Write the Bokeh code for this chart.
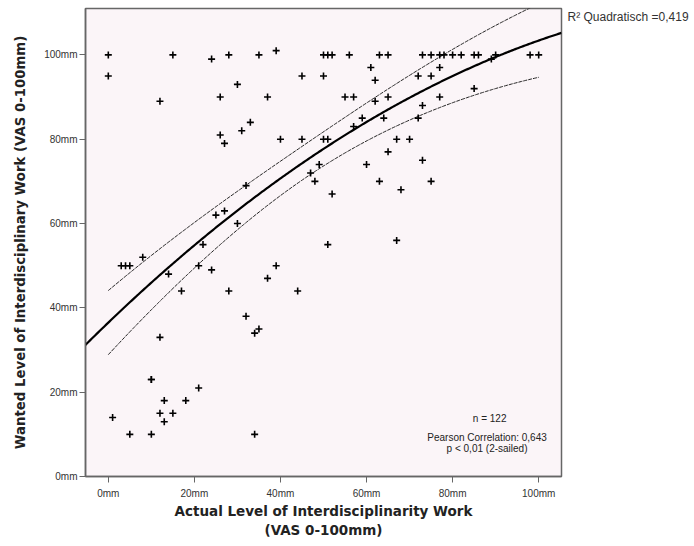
import numpy as np
from bokeh.plotting import figure
from bokeh.models import Range1d, Label, LinearAxis, FixedTicker
from bokeh.embed import file_html
from bokeh.resources import INLINE

# Data
actual = [0, 15, 24, 28, 35, 39, 50, 51, 52, 56, 63, 65, 73, 75, 77, 78, 80, 82, 85, 86, 89, 90, 98, 100,
          0, 12, 30, 26, 37, 45, 50, 61, 62, 72, 75, 77, 55, 57, 65, 62, 77, 85, 73,
          33, 31, 26, 27, 40, 45, 50, 51, 57, 59, 64, 72, 67, 70, 65, 60, 73,
          32, 49, 47, 48, 52, 63, 68, 75,
          51, 67, 25, 27, 30, 22,
          8, 3, 4, 5, 14, 21, 24, 39, 37, 17, 28, 44,
          32, 34, 35, 12, 10, 10, 21, 13, 18, 12, 15, 13, 1, 5, 10, 34]
wanted = [100, 100, 99, 100, 100, 101, 100, 100, 100, 100, 100, 100, 100, 100, 100, 100, 100, 100, 100, 100, 99, 100, 100, 100,
          95, 89, 93, 90, 90, 95, 95, 97, 94, 95, 95, 97, 90, 90, 90, 89, 90, 92, 88,
          84, 82, 81, 79, 80, 80, 80, 80, 83, 85, 85, 85, 80, 80, 77, 74, 75,
          69, 74, 72, 70, 67, 70, 68, 70,
          55, 56, 62, 63, 60, 55,
          52, 50, 50, 50, 48, 50, 49, 50, 47, 44, 44, 44,
          38, 34, 35, 33, 23, 23, 21, 18, 18, 15, 15, 13, 14, 10, 10, 10]

tick_values = [0, 20, 40, 60, 80, 100]
tick_labels = ["0mm", "20mm", "40mm", "60mm", "80mm", "100mm"]

# quadratic fit (a + b x + c x^2)
fit_coef = [36.5, 0.979, -0.0031]
# 95% CI half-width of the mean: hw^2 = A + K (x - m)^2
ci_params = [16.0, 0.0202, 45.5]

r2_text = "R\u00b2 Quadratisch =0,419"
r2_label_y = 109
n_text = "n = 122"
pearson_text = "Pearson Correlation: 0,643"
p_text = "p < 0,01 (2-sailed)"
x_title = "Actual Level of Interdisciplinarity Work\n(VAS 0-100mm)"
y_title = "Wanted Level of Interdisciplinary Work (VAS 0-100mm)"

x_lo, x_hi = -5.3, 105.3
y_lo, y_hi = 0, 111

p = figure(frame_width=476, frame_height=468,
           x_range=Range1d(x_lo, x_hi), y_range=Range1d(y_lo, y_hi),
           output_backend="svg", toolbar_location=None,
           min_border_left=85, min_border_right=126, min_border_top=8, min_border_bottom=60)
p.background_fill_color = "#fbf5f8"
p.border_fill_color = "white"
p.outline_line_color = "#666666"
p.outline_line_width = 1.5
p.grid.visible = False

for ax in (p.xaxis, p.yaxis):
    ax.ticker = tick_values
    ax.major_label_overrides = {v: l for v, l in zip(tick_values, tick_labels)}
    ax.minor_tick_line_color = None
    ax.major_tick_out = 6
    ax.major_tick_in = 0
    ax.axis_line_color = "#666666"
    ax.axis_line_width = 1.5
    ax.major_tick_line_color = "#666666"
    ax.major_label_text_font = "Liberation Sans"
    ax.major_label_text_font_size = "10px"
    ax.major_label_text_color = "#333333"
    ax.axis_label_text_font = "DejaVu Sans"
    ax.axis_label_text_font_style = "bold"
    ax.axis_label_text_color = "#222222"

p.xaxis.axis_label = x_title
p.yaxis.axis_label = y_title
p.xaxis.axis_label_text_font_size = "13.5px"
p.yaxis.axis_label_text_font_size = "13.3px"
p.xaxis.axis_label_standoff = 1
p.yaxis.axis_label_standoff = 13
p.yaxis.major_label_standoff = 2

# legend text for the fit line, placed at the right side of the frame
r2_axis = LinearAxis(ticker=FixedTicker(ticks=[r2_label_y]),
                     major_label_overrides={r2_label_y: r2_text},
                     axis_line_color=None, major_tick_line_color=None,
                     minor_tick_line_color=None, major_label_standoff=0,
                     major_label_text_font="Liberation Sans",
                     major_label_text_font_size="12px",
                     major_label_text_color="#333333")
p.add_layout(r2_axis, "right")

# fit line and confidence band for the mean
coef = np.array(fit_coef)
xs = np.linspace(x_lo, x_hi, 300)
fit = coef[0] + coef[1] * xs + coef[2] * xs ** 2
xb = np.linspace(min(actual), max(actual), 300)
fb = coef[0] + coef[1] * xb + coef[2] * xb ** 2
hw = np.sqrt(ci_params[0] + ci_params[1] * (xb - ci_params[2]) ** 2)

p.line(xb, fb + hw, line_color="#222222", line_width=1, line_dash="4 1")
p.line(xb, fb - hw, line_color="#222222", line_width=1, line_dash="4 1")
p.line(xs, fit, line_color="black", line_width=2.2)

p.scatter(actual, wanted, marker="cross", size=7, line_color="black", line_width=1.6)

p.add_layout(Label(x=88.6, y=13.7, text=n_text, text_font="Liberation Sans",
                   text_font_size="10px", text_align="center", text_baseline="middle", text_color="#222222"))
p.add_layout(Label(x=88.0, y=9.2, text=pearson_text, text_font="Liberation Sans",
                   text_font_size="10px", text_align="center", text_baseline="middle", text_color="#222222"))
p.add_layout(Label(x=88.0, y=6.6, text=p_text, text_font="Liberation Sans",
                   text_font_size="10px", text_align="center", text_baseline="middle", text_color="#222222"))

open("out.html", "w").write(file_html(p, INLINE))
